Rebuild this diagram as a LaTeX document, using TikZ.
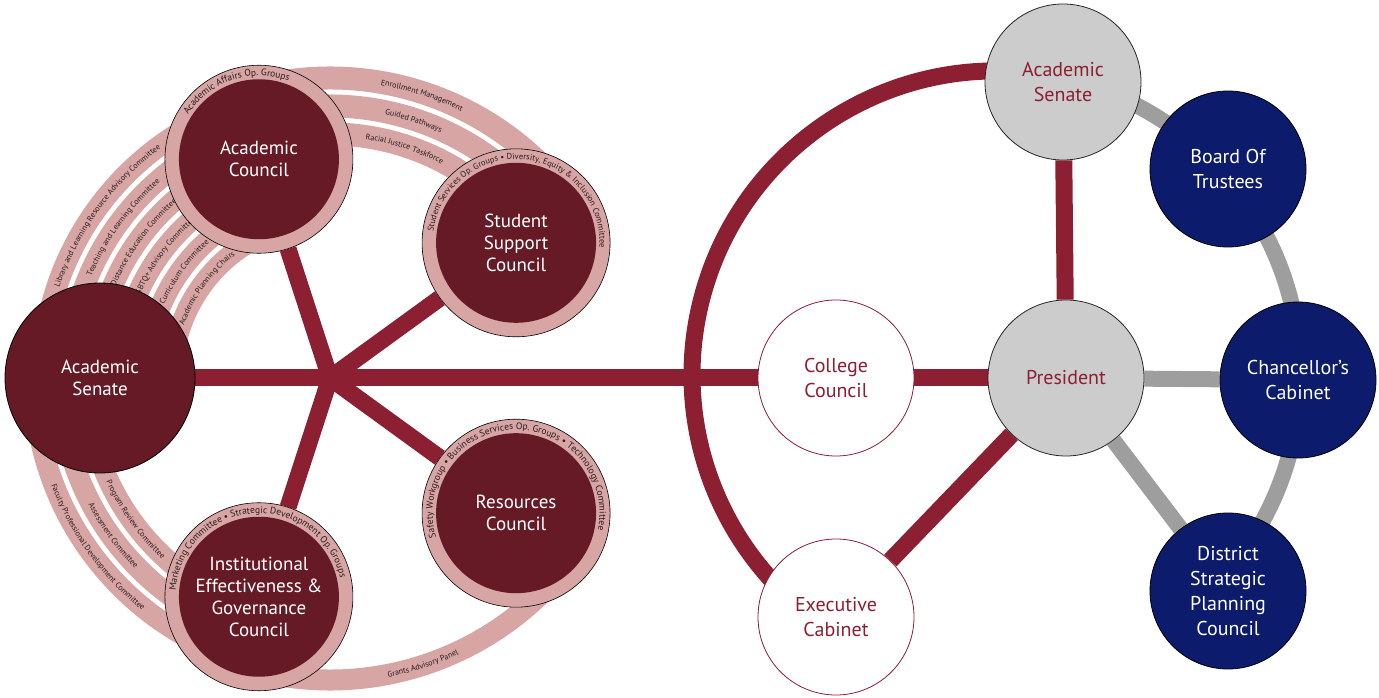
\documentclass[tikz,border=0pt]{standalone}
\usepackage{fontspec}
\setmainfont{PT Sans}
\usetikzlibrary{backgrounds,decorations.text}

\definecolor{wine}{HTML}{661A26}
\definecolor{claret}{HTML}{8C1F31}
\definecolor{blush}{HTML}{D7A5A4}
\definecolor{deepnavy}{HTML}{0C1B6B}
\definecolor{mist}{HTML}{CCCCCC}
\definecolor{slate}{HTML}{9E9E9E}
\definecolor{ink}{HTML}{2A1A1C}

\newcommand{\bandfont}{\fontsize{8}{8}\selectfont}
\newcommand{\ringfont}[1]{\fontsize{#1}{#1}\selectfont}

\tikzset{
  council/.style={circle, draw=black, line width=0.6pt, fill=blush, minimum size=188pt,
    inner sep=0pt, text=white, align=center, font=\fontsize{19}{22}\selectfont,
    path picture={\fill[wine] (path picture bounding box.center) circle (80pt);}},
  senatebox/.style={circle, draw=black, line width=0.8pt, fill=wine, minimum size=190pt,
    inner sep=0pt, text=white, align=center, font=\fontsize{19}{22}\selectfont},
  corebox/.style={circle, draw=black!85, line width=0.8pt, fill=mist, minimum size=156pt,
    inner sep=0pt, text=claret, align=center, font=\fontsize{20}{25}\selectfont},
  openbox/.style={corebox, draw=claret, fill=white},
  boardbox/.style={corebox, draw=black, fill=deepnavy, text=white},
  band/.style={blush, line width=21pt},
  spoke/.style={claret, line width=17pt},
  link/.style={slate, line width=16pt},
}

\begin{document}
\begin{tikzpicture}[x=1pt, y=1pt]
  \useasboundingbox (0,0) rectangle (1379,697);
  \coordinate (hub) at (330,319);
  \coordinate (ring) at (996,322);

  % councils round the hub
  \node[senatebox] (senL) at (100,319) {Academic\\Senate};
  \path (hub) ++(108:230pt) node[council] (acad) {Academic\\Council};
  \path (hub) ++(36:230pt) node[council] (student) {Student\\Support\\Council};
  \path (hub) ++(-36:230pt) node[council] (resources) {Resources\\Council};
  \path (hub) ++(252:230pt) node[council] (inst) {Institutional\\Effectiveness \&\\Governance\\Council};

  % college side
  \node[corebox] (senR) at (1063,615) {Academic\\Senate};
  \node[corebox] (president) at (1066,319) {President};
  \node[openbox] (college) at (836,319) {College\\Council};
  \node[openbox] (exec) at (836,80) {Executive\\Cabinet};
  \node[boardbox] (trustees) at (1228,528) {Board Of\\Trustees};
  \node[boardbox] (chancellor) at (1298,317) {Chancellor's\\Cabinet};
  \node[boardbox] (district) at (1228,106) {District\\Strategic\\Planning\\Council};

  \begin{pgfonlayer}{background}
    % committee bands
    \foreach \rad/\lbl in {288/Library and Learning Resource Advisory Committee,
        262/Teaching and Learning Committee, 236/Distance Education Committee,
        210/LGBTQ+ Advisory Committee, 184/Curriculum Committee, 158/Academic Planning Chairs}{
      \pgfmathsetmacro{\baseline}{\rad-2.8}
      \draw[band, shift={(hub)}] (180:\rad pt) arc[start angle=180, end angle=108, radius=\rad pt];
      \path[decorate, decoration={text along path, text align=center, text color=ink,
          text/.expanded={|\noexpand\bandfont|\lbl}}, shift={(hub)}]
        (180:\baseline pt) arc[start angle=180, end angle=108, radius=\baseline pt];
    }
    \foreach \rad/\lbl in {300/Enrollment Management, 272/Guided Pathways, 244/Racial Justice Taskforce}{
      \pgfmathsetmacro{\baseline}{\rad-2.8}
      \draw[band, line width=23pt, shift={(hub)}] (108:\rad pt) arc[start angle=108, end angle=36, radius=\rad pt];
      \path[decorate, decoration={text along path, text align=center, text color=ink,
          text/.expanded={|\noexpand\bandfont|\lbl}}, shift={(hub)}]
        (108:\baseline pt) arc[start angle=108, end angle=36, radius=\baseline pt];
    }
    \foreach \rad/\lbl in {296/Faculty Professional Development Committee, 270/Assessment Committee,
        244/Program Review Committee}{
      \pgfmathsetmacro{\baseline}{\rad+2.8}
      \draw[band, shift={(hub)}] (180:\rad pt) arc[start angle=180, end angle=252, radius=\rad pt];
      \path[decorate, decoration={text along path, text align=center, text color=ink,
          text/.expanded={|\noexpand\bandfont|\lbl}}, shift={(hub)}]
        (180:\baseline pt) arc[start angle=180, end angle=252, radius=\baseline pt];
    }
    \draw[band, shift={(hub)}] (252:302pt) arc[start angle=252, end angle=324, radius=302pt];
    \path[decorate, decoration={text along path, text align=center, text color=ink,
        text={|\bandfont|Grants Advisory Panel}}, shift={(hub)}]
      (252:304.8pt) arc[start angle=252, end angle=324, radius=304.8pt];

    % spokes
    \foreach \n in {acad, student, resources, inst}
      \draw[spoke] (hub) -- (\n);
    \draw[spoke] (senL) -- (college);
    \draw[spoke] (college) -- (president);
    \draw[spoke] (senR) -- (president);
    \draw[spoke] (president) -- (exec);
    \draw[spoke, shift={(ring)}] (77:304pt) arc[start angle=77, end angle=236, radius=304pt];

    % district links
    \draw[link, shift={(ring)}] (77:304pt) arc[start angle=77, end angle=-43, radius=304pt];
    \draw[link] (president) -- (chancellor);
    \draw[link] (president) -- (district);
  \end{pgfonlayer}

  % group names on the rings
  \foreach \n/\first/\last/\fs/\lbl in {acad/150/67/9.5/{Academic Affairs Op. Groups},
      student/175/-6/8.5/{Student Services Op. Groups {•} Diversity, Equity {\&} Inclusion Committee},
      resources/199/-14/9.5/{Safety Workgroup {•} Business Services Op. Groups {•} Technology Committee},
      inst/182/7/9.5/{Marketing Committee {•} Strategic Development Op. Groups}}
    \path[decorate, decoration={text along path, text align=center, text color=ink,
        text/.expanded={|\noexpand\ringfont{\fs}|\lbl}}, shift={(\n.center)}]
      (\first:83.5pt) arc[start angle=\first, end angle=\last, radius=83.5pt];
\end{tikzpicture}
\end{document}
